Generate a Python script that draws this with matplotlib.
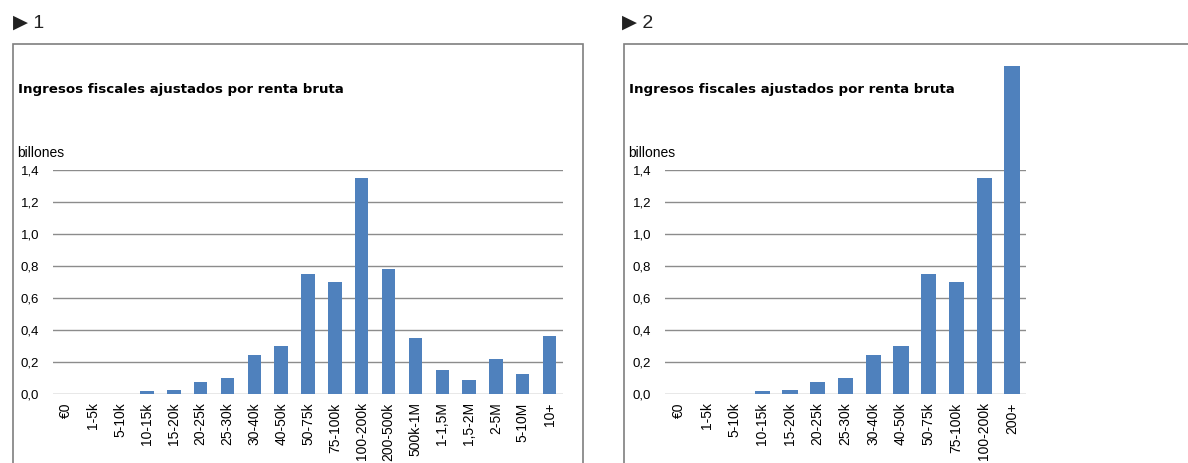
"""Two bar charts: tax revenue by gross income bracket."""

import matplotlib

matplotlib.use("Agg")
import matplotlib.pyplot as plt
from matplotlib.patches import Rectangle

plt.rcParams["font.family"] = ["Liberation Sans", "DejaVu Sans"]

TITLE = "Ingresos fiscales ajustados por renta bruta"
UNIT = "billones"

brackets_full = [
    "€0", "1-5k", "5-10k", "10-15k", "15-20k", "20-25k", "25-30k", "30-40k",
    "40-50k", "50-75k", "75-100k", "100-200k", "200-500k", "500k-1M",
    "1-1,5M", "1,5-2M", "2-5M", "5-10M", "10+",
]
revenue_full = [
    0.0, 0.0, 0.001, 0.02, 0.028, 0.078, 0.10, 0.245,
    0.30, 0.75, 0.70, 1.35, 0.78, 0.35,
    0.15, 0.085, 0.22, 0.125, 0.365,
]

brackets_grouped = [
    "€0", "1-5k", "5-10k", "10-15k", "15-20k", "20-25k", "25-30k", "30-40k",
    "40-50k", "50-75k", "75-100k", "100-200k", "200+",
]
revenue_grouped = [
    0.0, 0.0, 0.001, 0.02, 0.028, 0.078, 0.10, 0.245,
    0.30, 0.75, 0.70, 1.35, 2.05,
]

yticks = [0.0, 0.2, 0.4, 0.6, 0.8, 1.0, 1.2, 1.4]

W, H = 1188, 463
BAR_COLOR = "#4F81BD"
GRID_COLOR = "#8C8C8C"


def px_axes(fig, left, top, right, bottom):
    return fig.add_axes([left / W, 1 - bottom / H, (right - left) / W, (bottom - top) / H])


def draw_panel(fig, number, box_left, box_right, ax_left, ax_right, labels, values, width):
    fig.text(13 / W if number == 1 else 622 / W, 1 - 23 / H, f"▶ {number}",
             fontsize=14, va="center", ha="left", color="#222222")
    fig.patches.append(Rectangle((box_left / W, -0.1), (box_right - box_left) / W,
                                 1 - 44 / H + 0.1, transform=fig.transFigure,
                                 fill=False, edgecolor="#7F7F7F", linewidth=1.2))
    fig.text((box_left + 5) / W, 1 - 90 / H, TITLE, fontsize=9.6, fontweight="bold",
             family="DejaVu Sans", va="center", ha="left")
    fig.text((box_left + 4) / W, 1 - 153 / H, UNIT, fontsize=10,
             va="center", ha="left")

    ax = px_axes(fig, ax_left, 170, ax_right, 394)
    x = range(len(labels))
    ax.bar(x, values, width=width, color=BAR_COLOR, clip_on=False, zorder=3)
    ax.set_xlim(-0.5, len(labels) - 0.5)
    ax.set_ylim(0, 1.4)
    ax.set_yticks(yticks)
    ax.set_yticklabels([f"{v:.1f}".replace(".", ",") for v in yticks], fontsize=9.5)
    ax.set_xticks(list(x))
    ax.set_xticklabels(labels, rotation=90, fontsize=10)
    ax.tick_params(length=0, pad=6)
    ax.tick_params(axis="y", pad=10)
    for v in yticks:
        ax.axhline(v, color=GRID_COLOR, linewidth=1, zorder=1)
    for s in ax.spines.values():
        s.set_visible(False)
    ax.patch.set_alpha(0)


def main() -> None:
    fig = plt.figure(figsize=(W / 100, H / 100), dpi=100)
    draw_panel(fig, 1, 13, 583, 53, 563, brackets_full, revenue_full, 0.5)
    draw_panel(fig, 2, 624, 1200, 665, 1026, brackets_grouped, revenue_grouped, 0.55)
    fig.savefig("out.png", dpi=100)
    plt.close(fig)


if __name__ == "__main__":
    main()
